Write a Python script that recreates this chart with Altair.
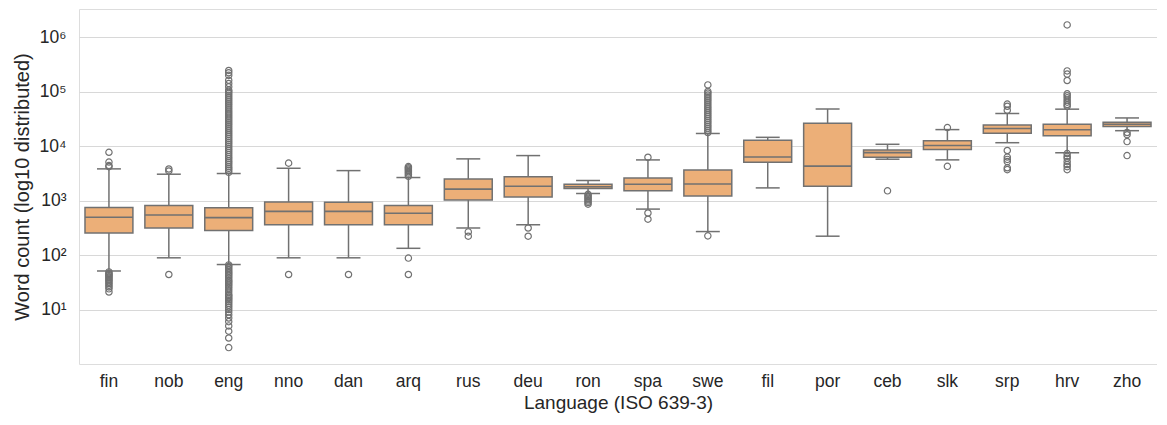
import altair as alt
import pandas as pd

# ---------------- data ----------------
langs = ["fin", "nob", "eng", "nno", "dan", "arq", "rus", "deu", "ron", "spa",
         "swe", "fil", "por", "ceb", "slk", "srp", "hrv", "zho"]
q1 = [255, 314, 281, 360, 360, 360, 1025, 1160, 1660, 1510, 1210, 5080, 1830, 6250, 8700, 17200, 15500, 23000]
med = [495, 544, 487, 634, 634, 584, 1620, 1830, 1800, 1990, 2020, 6330, 4300, 7590, 10260, 21000, 20000, 25200]
q3 = [748, 813, 736, 944, 931, 813, 2480, 2730, 1990, 2590, 3650, 12800, 26200, 8450, 12600, 24400, 25200, 27400]
whisk_lo = [51, 89, 67, 89, 89, 133, 314, 360, 1350, 698, 270, 1710, 222, 5750, 5590, 11550, 7550, 19200]
whisk_hi = [3820, 3050, 3140, 3920, 3550, 2650, 5830, 6700, 2340, 5580, 17060, 14500, 48000, 10800, 20100, 39700, 47700, 32900]

out_fin = [7700, 5100, 4400, 4200, 49, 46, 44, 42, 40, 38, 36, 34, 32, 30, 28, 26, 24, 21]
out_nob = [3800, 3500, 44]
out_eng = [3300, 3600, 3900, 4200, 4600, 5000, 5400, 5900, 6400, 7000, 7600, 8300, 9000,
           9800, 10700, 11600, 12600, 13700, 14900, 16200, 17600, 19100, 20800, 22600,
           24600, 26700, 29000, 31500, 34300, 37300, 40500, 44000, 47900, 52000, 56600,
           61500, 66900, 72700, 79000, 85900, 93400, 101000, 107000, 123000, 141000,
           162000, 199000, 222000, 245000,
           66, 62, 58, 54, 50, 47, 44, 41, 38, 35, 33, 31, 29, 27, 25, 23, 21, 19, 18,
           17, 16, 15, 14, 13, 12, 11, 10, 9, 8, 7, 6, 5, 4, 3, 2]
out_nno = [4870, 44]
out_dan = [44]
out_arq = [4200, 4000, 3800, 3600, 3400, 3200, 3000, 2800, 88, 44]
out_rus = [266, 222]
out_deu = [314, 222]
out_ron = [1300, 1230, 1160, 1100, 1040, 980, 920, 860]
out_spa = [6240, 591, 455]
out_swe = [17800, 19300, 21000, 22800, 24800, 27000, 29300, 31900, 34700, 37700, 41000,
           44600, 48500, 52700, 57300, 62300, 67700, 73600, 80000, 87000, 94600, 101000,
           133000, 225]
out_fil = []
out_por = []
out_ceb = [1510]
out_slk = [21900, 4250]
out_srp = [59000, 54000, 45500, 8300, 6300, 5700, 5200, 4000, 3700]
out_hrv = [1680000, 240000, 210000, 160000, 91000, 84000, 77000, 70000, 64000, 58000,
           54000, 7300, 6500, 6000, 5200, 4600, 4200, 3700]
out_zho = [17800, 16200, 12100, 6700]

ytick_values = [10, 100, 1000, 10000, 100000, 1000000]
ytick_labels = ["10¹", "10²", "10³", "10⁴", "10⁵", "10⁶"]

# ---------------- tables ----------------
stats = pd.DataFrame({"lang": langs, "q1": q1, "med": med, "q3": q3,
                      "lo": whisk_lo, "hi": whisk_hi})
outlier_lists = [out_fin, out_nob, out_eng, out_nno, out_dan, out_arq, out_rus, out_deu,
                 out_ron, out_spa, out_swe, out_fil, out_por, out_ceb, out_slk, out_srp,
                 out_hrv, out_zho]
rows = []
for lg, vals in zip(langs, outlier_lists):
    for v in vals:
        rows.append({"lang": lg, "value": v})
outliers = pd.DataFrame(rows)

# ---------------- styling ----------------
BOX = "#ECAF78"
LINE = "#717171"
GRID = "#d8d8d8"
TEXT = "#262626"
FONT = "Liberation Sans"

PLOT_W = 1078
PLOT_H = 355
BAND = PLOT_W / len(langs)

label_expr = ""
for v, l in zip(ytick_values, ytick_labels):
    label_expr += f"datum.value == {v} ? '{l}' : "
label_expr += "''"

xscale = alt.Scale(domain=langs, paddingInner=0, paddingOuter=0)
X = alt.X("lang:N", sort=langs, scale=xscale,
          axis=alt.Axis(title="Language (ISO 639-3)", domain=False, ticks=False, grid=False,
                        labelAngle=0, labelFontSize=17.5, labelPadding=8, titleFontSize=19,
                        titlePadding=4, labelFont=FONT, titleFont=FONT, labelColor=TEXT,
                        titleColor=TEXT, titleFontWeight="normal"))
yscale = alt.Scale(type="log", domain=[1, 3.29e6], nice=False)
Y_AXIS = alt.Axis(title="Word count (log10 distributed)", values=ytick_values,
                  labelExpr=label_expr, domain=False, ticks=False, grid=True,
                  gridColor=GRID, gridWidth=1.2, labelFontSize=17.5, labelPadding=13,
                  titleFontSize=20, titlePadding=7, labelFont=FONT, titleFont=FONT,
                  labelColor=TEXT, titleColor=TEXT, titleFontWeight="normal")

base = alt.Chart(stats)

w_lo = base.mark_rule(color=LINE, strokeWidth=1.5, clip=True).encode(
    x=X, y=alt.Y("lo:Q", scale=yscale, axis=Y_AXIS), y2="q1:Q")
w_hi = base.mark_rule(color=LINE, strokeWidth=1.5, clip=True).encode(
    x=X, y=alt.Y("q3:Q", scale=yscale), y2="hi:Q")
box = base.mark_bar(width=alt.RelativeBandSize(0.8), fill=BOX, stroke=LINE,
                    strokeWidth=1.5, clip=True, opacity=1).encode(
    x=X, y=alt.Y("q1:Q", scale=yscale), y2="q3:Q")
median = base.mark_tick(size=BAND * 0.8, thickness=1.6, color=LINE, opacity=1, clip=True).encode(
    x=X, y=alt.Y("med:Q", scale=yscale))
cap_lo = base.mark_tick(size=BAND * 0.4, thickness=1.5, color=LINE, opacity=1, clip=True).encode(
    x=X, y=alt.Y("lo:Q", scale=yscale))
cap_hi = base.mark_tick(size=BAND * 0.4, thickness=1.5, color=LINE, opacity=1, clip=True).encode(
    x=X, y=alt.Y("hi:Q", scale=yscale))
fliers = alt.Chart(outliers).mark_point(shape="circle", filled=False, size=40, stroke=LINE,
                                         strokeWidth=1.2, opacity=1, clip=True).encode(
    x=X, y=alt.Y("value:Q", scale=yscale))

chart = alt.layer(w_lo, w_hi, box, median, cap_lo, cap_hi, fliers).properties(
    width=PLOT_W, height=PLOT_H,
    padding={"left": 4, "top": 1, "right": 0, "bottom": 0},
).configure_view(stroke="#cfcfcf", strokeWidth=1.3).configure(background="white")

chart.save("out.html", embed_options={"renderer": "svg", "actions": False})
